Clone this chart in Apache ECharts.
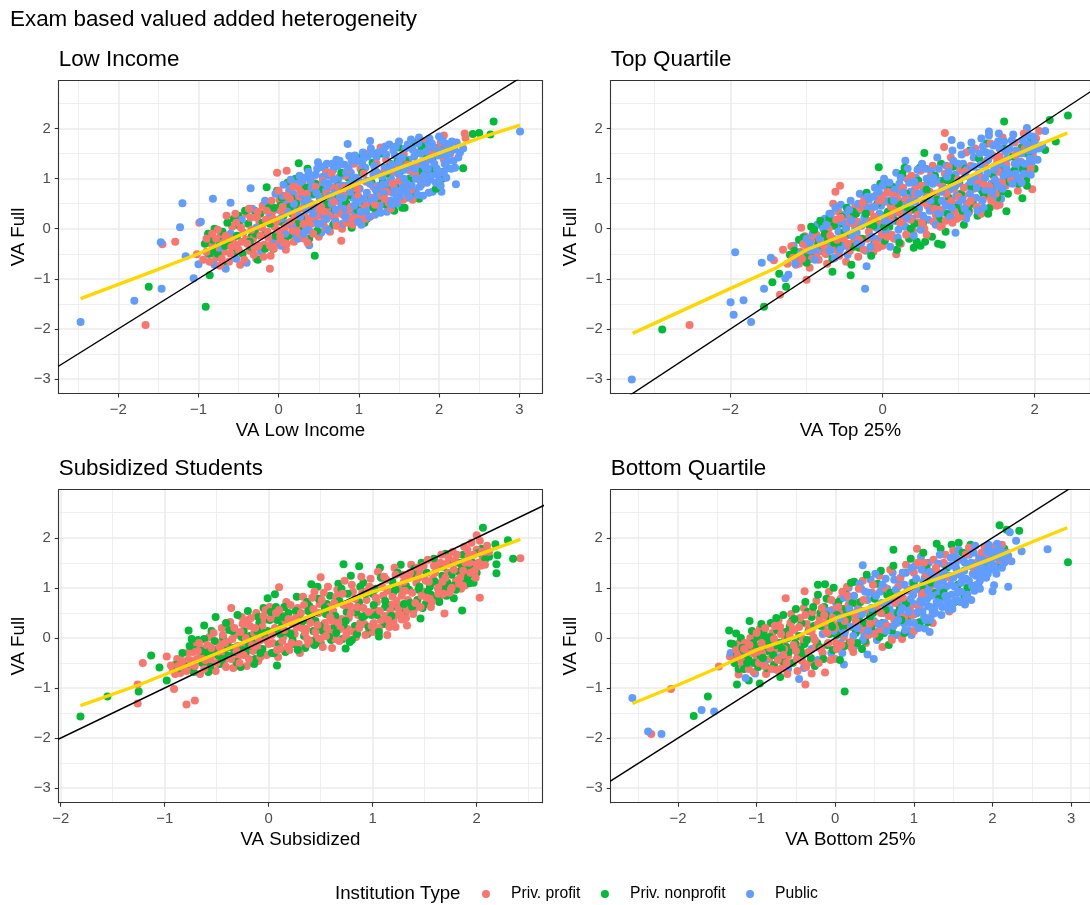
<!DOCTYPE html>
<html>
<head>
<meta charset="utf-8">
<title>Exam based valued added heterogeneity</title>
<script src="https://cdn.jsdelivr.net/npm/echarts@6/dist/echarts.min.js"></script>
<style>
  html, body {margin: 0; padding: 0; background: #fff;}
  #chart {width: 1090px; height: 905px;}
</style>
</head>
<body>
<div id="chart"></div>
<script>
const institutionTypes = ['Priv. profit', 'Priv. nonprofit', 'Public'];
const typeColors = ['#F8766D', '#00BA38', '#619CFF'];

const yTicks = [-3, -2, -1, 0, 1, 2];
const yMinorTicks = [-2.5, -1.5, -0.5, 0.5, 1.5, 2.5];
const identityLine = [[-4, -4], [4, 4]];

// Low Income panel
const lowProfit = [[-1.66,-1.92],[-1.45,-0.31],[-1.29,-0.26],[-0.99,0.12],[-1.02,-0.51],[-0.11,-0.8],[0.78,-0.24],[-0.02,1.12],[0.1,1.16],[2.32,1.9],[2.33,1.81],[2.06,1.86],
[-0.84,-0.3],[-0.78,-0.58],[-0.72,-0.14],[-0.68,-0.46],[-0.62,-0.66],[-0.58,0.04],[-0.52,-0.32],[-0.48,-0.72],[-0.44,-0.08],[-0.4,0.3],[-0.36,-0.44],[-0.32,-0.2],[-0.28,-0.6],[-0.24,0.12],[-0.2,0.46],[-0.18,-0.32],[-0.14,-0.06],[-0.1,-0.54],[-0.08,0.34],[-0.05,0.04],[-0.02,-0.28],[0.01,0.58],[0.04,0.22],[0.07,-0.08],[0.09,-0.42],[0.13,0.76],[0.16,0.4],[0.19,-0.26],[0.22,0.06],[0.25,0.6],[0.28,-0.18],[0.3,0.92],[0.33,0.24],[0.36,-0.28],[0.39,0.74],[0.41,0.1],[0.44,1.06],[0.47,0.42],[0.5,-0.16],[0.52,0.62],[0.56,0.14],[0.59,1.14],[0.61,0.4],[0.64,-0.06],[0.67,0.82],[0.7,0.2],[0.73,1.26],[0.76,0.56],[0.79,0],[0.83,1.06],[0.86,0.34],[0.89,0.72],[0.92,0.08],[0.94,1.3],[0.97,0.52],[1,0.2],[1.02,1.2],[1.06,0.42],[1.09,0.94],[1.12,1.5],[1.16,0.62],[1.2,1.18],[1.24,0.38],[1.27,1.62],[1.3,0.8],[1.34,1.38],[1.37,0.52],[1.41,1.12],[1.44,1.6],[1.48,0.7],[1.52,1.02],[1.56,1.48],[1.6,0.8],[1.64,1.16],[1.67,0.58],[1.72,1.3],[1.76,0.98],[1.8,1.74],[1.84,1.42],[1.9,1.64],[1.94,1.24],[1.98,1.58],[2.02,1.72],[2.06,1.38],[2.1,1.6],[2.14,1.5],
[-0.94,-0.62],[-0.9,-0.2],[-0.86,-0.66],[-0.8,-0.38],[-0.76,-0.02],[-0.73,-0.74],[-0.69,-0.28],[-0.65,0.26],[-0.6,-0.5],[-0.57,-0.2],[-0.54,0.3],[-0.5,-0.42],[-0.47,0.02],[-0.43,-0.62],[-0.41,-0.22],[-0.37,0.4],[-0.34,-0.02],[-0.31,-0.52],[-0.27,0.22],[-0.25,-0.34],[-0.21,0.02],[-0.19,-0.56],[-0.15,0.36],[-0.13,-0.18],[-0.09,0.56],[-0.06,-0.4],[-0.03,0.16],[0,0.76],[0.02,-0.16],[0.05,0.44],[0.08,0.04],[0.1,-0.3],[0.14,0.6],[0.17,-0.04],[0.2,0.24],[0.24,0.84],[0.26,-0.1],[0.29,0.4],[0.32,-0.2],[0.35,0.7],[0.37,0.14],[0.4,0.5],[0.43,-0.1],[0.46,0.84],[0.49,0.26],[0.53,0.44],[0.55,0.96],[0.58,0.02],[0.6,0.7],[0.63,0.26],[0.66,1.1],[0.69,0.54],[0.72,0.06],[0.75,0.84],[0.78,0.3],[0.81,0.66],[0.84,0.12],[0.87,1.2],[0.9,0.44],[0.93,0.9],[0.96,0.22],[0.99,0.66],[1.03,0.32],[1.06,1.1],[1.1,0.52],[1.14,0.24],[1.18,0.84],[1.22,1.3],[1.26,0.66],[1.3,1.1],[1.35,0.74],[1.4,0.4],[1.45,1.2],[1.5,0.96],[1.55,0.58],[1.6,1.28],[1.65,0.78],[1.7,1.1],[1.78,0.88],[1.86,1.04],[1.92,1.5],
[-0.9,-0.46],[-0.83,-0.1],[-0.78,-0.2],[-0.71,-0.6],[-0.66,-0.14],[-0.59,-0.36],[-0.53,0.12],[-0.46,-0.26],[-0.39,-0.3],[-0.35,0.22],[-0.3,-0.38],[-0.26,0.34],[-0.23,-0.14],[-0.16,0.18],[-0.11,-0.34],[-0.07,0.2],[0,-0.04],[0.03,0.36],[0.06,-0.28],[0.1,0.66],[0.15,0.14],[0.18,0.84],[0.23,-0.06],[0.27,0.74],[0.31,0.1],[0.42,0.24],[0.5,0.36],[0.57,0.34],[0.65,0.64],[0.74,0.34],[0.82,0.82],[0.9,0.2],[0.98,0.8],[1.08,0.2],[1.2,0.48],[1.32,0.6],[1.42,0.9]];
const lowNonprofit = [[-1.62,-1.16],[-0.91,-1.56],[-0.86,-0.93],[0.45,-0.54],[0.25,1.31],[2.68,2.14],[2.42,1.89],[2.5,1.91],[2.64,1.88],[2.3,1.21],[1.57,0.42],[2.05,1.14],[-0.15,0.83],
[-0.88,-0.1],[-0.82,-0.22],[-0.76,-0.5],[-0.7,-0.72],[-0.64,0.12],[-0.56,0.2],[-0.5,0.26],[-0.45,-0.5],[-0.38,0.1],[-0.34,-0.16],[-0.3,0.36],[-0.26,-0.62],[-0.16,-0.08],[-0.12,0.44],[-0.07,-0.4],[-0.02,0.76],[0.03,0.14],[0.08,-0.22],[0.11,0.92],[0.17,0.3],[0.21,1],[0.27,-0.04],[0.31,0.66],[0.36,1.2],[0.38,-0.2],[0.46,0.9],[0.51,0.28],[0.57,1.22],[0.63,-0.02],[0.66,0.48],[0.74,0.9],[0.81,0.28],[0.87,1.02],[0.91,0.02],[0.96,0.72],[1.01,1.42],[1.07,0.12],[1.11,0.6],[1.17,1.32],[1.23,0.72],[1.29,1.5],[1.33,0.48],[1.39,1.3],[1.46,0.88],[1.5,1.62],[1.54,0.42],[1.63,1],[1.7,1.72],[1.75,0.6],[1.83,1.1],[1.87,1.76],[1.93,1.44],[2,1.62],[2.04,1],
[-0.92,-0.3],[-0.86,-0.5],[-0.8,0],[-0.74,-0.26],[-0.7,-0.06],[-0.61,-0.24],[-0.55,-0.48],[-0.49,0.06],[-0.42,0.36],[-0.35,-0.36],[-0.29,-0.1],[-0.23,0.3],[-0.17,-0.4],[-0.11,0.1],[-0.04,-0.14],[0.02,0.46],[0.06,0.26],[0.12,-0.14],[0.16,0.6],[0.22,0.5],[0.28,0.2],[0.34,0.82],[0.42,0.4],[0.48,-0.04],[0.54,0.78],[0.6,0.48],[0.68,0.08],[0.72,0.62],[0.78,1.12],[0.84,0.52],[0.92,0.8],[0.98,0.38],[1.04,1.12],[1.1,0.2],[1.16,0.92],[1.24,0.6],[1.3,0.96],[1.38,0.84],[1.44,0.36],[1.52,1.16],[1.58,1.36],[1.66,0.72],[1.74,1.14],[1.8,1.5],[1.9,1.16],[1.96,0.8],
[-0.83,-0.44],[-0.67,-0.34],[-0.52,-0.14],[-0.36,-0.26],[-0.2,0.12],[-0.06,0.42],[0.04,0.62],[0.14,0.44],[0.24,0.12],[0.33,0.4],[0.44,0.7],[0.55,0.62],[0.7,0.38],[0.86,0.66],[1.02,0.56],[1.18,0.42],[1.34,1.1],[1.48,1.34],[1.64,0.96],[1.78,1.64]];
const lowPublic = [[-2.47,-1.86],[-1.8,-1.44],[-1.46,-1.2],[-1.47,-0.27],[-1.2,0.51],[-1.23,0.03],[-0.82,0.6],[-0.6,0.52],[-0.35,0.81],[-0.97,0.14],[-1.16,-0.55],[-1,-0.71],[-1.06,-0.99],[3.01,1.94],[2.21,0.89],[2.03,0.74],[0.86,1.69],[1.14,1.75],[0.49,1.33],[0.38,-0.33],
[-0.88,-0.5],[-0.8,-0.72],[-0.74,-0.38],[-0.66,-0.8],[-0.6,-0.1],[-0.53,-0.6],[-0.46,0.18],[-0.4,-0.68],[-0.33,0.4],[-0.28,0.02],[-0.22,-0.46],[-0.17,0.56],[-0.12,0.22],[-0.08,-0.22],[-0.04,0.7],[0,0.38],[0.03,-0.34],[0.06,0.88],[0.09,0.54],[0.12,0.12],[0.15,0.98],[0.18,0.7],[0.2,-0.12],[0.23,0.36],[0.26,1.06],[0.29,0.84],[0.32,0.52],[0.34,0.02],[0.37,1.14],[0.4,0.94],[0.42,0.68],[0.45,0.2],[0.48,1.2],[0.5,0.82],[0.53,-0.08],[0.55,1.04],[0.58,0.56],[0.6,1.3],[0.62,0.9],[0.65,0.3],[0.68,1.18],[0.7,0.72],[0.72,1.38],[0.75,1.02],[0.78,0.48],[0.8,0.1],[0.82,1.28],[0.85,0.86],[0.88,1.45],[0.9,1.12],[0.93,0.62],[0.95,0.32],[0.98,1.36],[1,0.96],[1.03,0.08],[1.05,1.52],[1.08,1.22],[1.1,0.72],[1.13,0.46],[1.15,1.6],[1.18,1.08],[1.2,0.28],[1.22,1.42],[1.25,0.86],[1.28,0.58],[1.3,1.56],[1.32,1.22],[1.35,0.34],[1.38,1.68],[1.4,1],[1.42,0.72],[1.45,1.46],[1.48,0.5],[1.5,1.74],[1.52,1.26],[1.55,0.86],[1.58,1.6],[1.6,0.62],[1.62,1.38],[1.65,1.78],[1.68,1.06],[1.7,0.76],[1.72,1.52],[1.75,1.82],[1.78,1.2],[1.8,0.66],[1.82,1.66],[1.85,0.92],[1.88,1.8],[1.9,1.38],[1.92,0.74],[1.95,1.56],[1.98,1.08],[2,1.84],[2.02,0.86],[2.05,1.48],[2.08,1.7],[2.1,1.22],[2.14,1.6],[2.18,1.36],[2.22,1.72],[2.26,1.52],[2.3,1.6],
[0.02,0.2],[0.05,0.66],[0.08,-0.1],[0.11,0.34],[0.14,0.8],[0.17,0.06],[0.19,0.5],[0.22,0.9],[0.24,-0.2],[0.27,0.24],[0.3,0.68],[0.33,1.02],[0.35,0.38],[0.38,-0.04],[0.41,0.82],[0.44,0.46],[0.46,1.08],[0.49,0.1],[0.51,0.62],[0.54,1.24],[0.56,0.3],[0.59,0.76],[0.61,-0.02],[0.63,1.06],[0.66,0.5],[0.69,0.98],[0.71,0.14],[0.74,1.26],[0.76,0.64],[0.79,0.86],[0.81,0.4],[0.84,1.12],[0.86,0.2],[0.89,0.74],[0.91,1.36],[0.94,0.46],[0.96,1.02],[0.99,0.14],[1.01,0.8],[1.04,1.3],[1.06,0.6],[1.09,0.34],[1.11,1.44],[1.14,0.9],[1.16,0.56],[1.19,1.26],[1.21,0.78],[1.24,1.52],[1.26,0.46],[1.29,1.04],[1.31,0.7],[1.34,1.48],[1.36,0.9],[1.39,0.56],[1.41,1.28],[1.44,0.82],[1.46,1.64],[1.49,1.1],[1.51,0.64],[1.54,1.42],[1.56,1],[1.59,0.74],[1.61,1.68],[1.64,1.24],[1.66,0.86],[1.69,1.44],[1.71,1],[1.74,1.7],[1.76,0.84],[1.79,1.34],[1.81,1.06],[1.84,1.54],[1.86,1.2],[1.89,0.98],[1.91,1.7],[1.94,1.3],[1.96,0.92],[1.99,1.46],[2.01,1.14],[2.04,1.76],[2.07,1.3],[2.09,1.02],[2.12,1.5],[2.16,1.74],[2.2,1.22],[2.24,1.42],
[0.28,0.94],[0.31,-0.1],[0.36,0.58],[0.39,1.04],[0.43,0.3],[0.47,0.72],[0.52,0.1],[0.57,0.92],[0.6,0.2],[0.64,0.66],[0.67,1.3],[0.71,0.38],[0.76,1.36],[0.8,0.62],[0.83,0.24],[0.87,1.22],[0.92,0.98],[0.95,1.46],[1,0.54],[1.02,0.34],[1.06,1.4],[1.1,0.96],[1.13,0.24],[1.17,1.5],[1.2,0.62],[1.23,1.12],[1.27,0.32],[1.3,0.88],[1.33,1.64],[1.37,1.16],[1.41,0.48],[1.43,1.56],[1.47,0.62],[1.5,1.34],[1.53,0.76],[1.57,1.18],[1.6,0.9],[1.63,0.64],[1.67,1.58],[1.7,1.2],[1.73,0.68],[1.77,1.5],[1.8,0.94],[1.83,1.28],[1.87,0.72],[1.9,1.06],[1.93,1.62],[1.97,1.2],[2,0.96],[2.03,1.56],[2.06,1.12],[2.11,1.36],[2.15,1.2],[2.19,1.58]];
const lowSmooth = [[-2.47,-1.395],[-1.6,-0.87],[-1,-0.5],[-0.5,-0.14],[0,0.21],[0.47,0.54],[1,0.91],[1.5,1.21],[2,1.51],[2.5,1.81],[3.01,2.07]];

// Top Quartile panel
const topProfit = [[-2.54,-1.92],[-1.35,-1.32],[-1,-1.02],[-1.07,0.02],[-1.31,-0.42],[-1.43,-0.63],[-0.56,0.86],[-0.62,0.74],[-0.65,0.5],[0.82,1.91],[0.81,1.63],[1.97,0.79],[0.18,-0.51],[1.54,0.48],[2.06,1.95],
[-1.25,-0.7],[-1.2,-0.35],[-1.14,-0.72],[-1.08,-0.46],[-1.02,-0.15],[-0.96,-0.78],[-0.9,-0.4],[-0.84,-0.62],[-0.78,-0.16],[-0.73,-0.7],[-0.68,0.12],[-0.62,-0.42],[-0.58,0.34],[-0.53,-0.1],[-0.48,-0.66],[-0.44,0.24],[-0.4,-0.3],[-0.36,0.44],[-0.32,-0.56],[-0.28,0.06],[-0.24,0.62],[-0.2,-0.2],[-0.16,0.34],[-0.12,-0.46],[-0.08,0.68],[-0.04,0.1],[0,-0.34],[0.04,0.54],[0.08,0.92],[0.12,-0.12],[0.16,0.4],[0.2,0.76],[0.24,-0.3],[0.28,0.18],[0.32,1],[0.36,0.46],[0.4,-0.04],[0.43,0.82],[0.47,0.12],[0.5,1.16],[0.54,0.52],[0.58,-0.12],[0.62,0.74],[0.66,1.26],[0.7,0.28],[0.74,0.92],[0.78,0.06],[0.82,1.1],[0.86,0.5],[0.9,1.42],[0.94,0.8],[0.98,0.2],[1.02,1.16],[1.06,0.66],[1.1,1.52],[1.14,0.34],[1.18,1.02],[1.22,1.6],[1.26,0.82],[1.3,0.3],[1.34,1.3],[1.38,0.66],[1.42,1.7],[1.46,1.06],[1.5,0.46],[1.54,1.44],[1.58,1.82],[1.62,0.86],[1.66,1.58],[1.7,1.12],[1.74,1.72],[1.78,0.76],[1.82,1.34],[1.86,1.9],[1.9,1.14],[1.94,1.62],[1.98,1.44],[2.02,1.8],
[-1.18,-0.58],[-1.1,-0.7],[-1.04,-0.3],[-0.99,-0.42],[-0.93,-0.6],[-0.87,-0.12],[-0.81,-0.3],[-0.75,-0.5],[-0.71,0],[-0.67,-0.38],[-0.61,0.18],[-0.57,-0.54],[-0.51,-0.2],[-0.47,0.1],[-0.43,-0.44],[-0.37,-0.18],[-0.33,0.14],[-0.29,0.4],[-0.25,-0.42],[-0.19,0.16],[-0.13,0.44],[-0.09,-0.28],[-0.05,0.56],[-0.01,-0.12],[0.03,0.2],[0.07,0.74],[0.11,0.44],[0.15,-0.2],[0.19,0.62],[0.23,0.12],[0.27,0.82],[0.31,-0.12],[0.34,0.32],[0.38,1.06],[0.42,0.6],[0.46,0.28],[0.51,0.86],[0.55,0],[0.59,0.46],[0.63,1.04],[0.67,0.14],[0.71,0.7],[0.75,0.38],[0.79,0.84],[0.83,0.16],[0.87,1.24],[0.91,0.56],[0.95,0.34],[0.99,0.98],[1.03,0.24],[1.07,0.82],[1.11,0.5],[1.16,1.26],[1.2,0.8],[1.24,0.44],[1.28,1.02],[1.32,0.58],[1.37,1.36],[1.41,0.84],[1.45,1.46],[1.49,0.7],[1.53,1.14],[1.57,0.94],[1.63,1.28],[1.69,0.98],[1.75,1.46],[1.81,1.02],[1.87,1.6],[1.95,1.2],
[-1.06,-0.6],[-0.94,-0.24],[-0.86,-0.48],[-0.77,-0.34],[-0.69,-0.14],[-0.6,-0.22],[-0.55,0.22],[-0.46,-0.3],[-0.39,0.1],[-0.31,-0.22],[-0.26,0.52],[-0.18,-0.06],[-0.11,0.24],[-0.06,-0.38],[0,0.66],[0.06,-0.16],[0.1,0.24],[0.14,0.66],[0.22,0.32],[0.3,0.6],[0.37,0.18],[0.44,0.72],[0.52,0.12],[0.6,0.64],[0.68,0.4],[0.76,0.04],[0.84,0.7],[0.92,0.12],[1,0.64],[1.08,1.14],[1.16,0.56],[1.24,0.9],[1.33,0.9],[1.43,0.56],[1.51,1.36]];
const topNonprofit = [[-2.9,-2.01],[-1.56,-1.56],[-1.45,-1.07],[-1.27,-1.16],[-1.36,-0.9],[-0.66,-0.86],[-0.42,-0.93],[-0.05,1.23],[0.55,1.51],[1.6,2.14],[2.2,2.17],[2.44,2.26],[2.28,1.74],[2.14,1.57],[1.63,0.35],[1.84,0.61],[1.9,0.86],[0.73,-0.3],[0.78,-0.32],[0.41,-0.38],[0.5,-0.34],[0.56,-0.26],[-1.04,-0.17],
[-1.22,-0.52],[-1.1,-0.22],[-1,-0.52],[-0.94,0.04],[-0.88,-0.22],[-0.82,0.16],[-0.74,-0.5],[-0.7,0.2],[-0.66,-0.6],[-0.56,-0.28],[-0.52,0.1],[-0.47,0.42],[-0.41,-0.72],[-0.35,0.3],[-0.27,-0.2],[-0.21,0.72],[-0.15,-0.54],[-0.09,0.22],[-0.03,0.9],[0.03,-0.24],[0.07,0.34],[0.13,0.84],[0.19,-0.42],[0.25,0.3],[0.29,1.22],[0.35,-0.2],[0.39,0.6],[0.45,-0.26],[0.49,1.22],[0.55,0.2],[0.61,0.98],[0.65,-0.16],[0.71,0.48],[0.77,1.3],[0.83,-0.06],[0.87,0.62],[0.93,1.24],[1.01,0.92],[1.07,0.08],[1.15,1.56],[1.19,0.5],[1.25,0.26],[1.31,1],[1.37,1.7],[1.41,0.42],[1.47,1.24],[1.55,0.72],[1.59,1.6],[1.65,0.7],[1.71,1.44],[1.77,1],[1.83,1.62],[1.89,0.98],[1.95,1.78],[2,1.2],
[-1.16,-0.44],[-1.06,-0.62],[-0.97,-0.28],[-0.91,-0.5],[-0.85,-0.34],[-0.79,0.06],[-0.72,-0.22],[-0.64,0.06],[-0.59,-0.34],[-0.54,0.24],[-0.45,-0.12],[-0.39,0.34],[-0.31,-0.38],[-0.25,0.48],[-0.17,0.06],[-0.11,-0.3],[-0.07,0.5],[0.01,0.26],[0.05,0.86],[0.09,0.04],[0.17,0.16],[0.21,0.5],[0.26,1.1],[0.31,0.7],[0.37,0],[0.41,0.38],[0.47,0.96],[0.53,0.1],[0.57,0.6],[0.64,0.42],[0.69,1.06],[0.75,0.18],[0.81,0.96],[0.86,0.3],[0.91,1.02],[0.97,0.42],[1.03,0.7],[1.09,1.2],[1.13,0.38],[1.21,0.86],[1.27,1.4],[1.33,0.68],[1.39,0.3],[1.44,1.1],[1.51,0.62],[1.57,1.16],[1.67,0.94],[1.73,1.16],[1.79,0.9],[1.85,1.2],[1.92,1.5],
[-1,-0.68],[-0.9,-0.02],[-0.76,-0.1],[-0.64,-0.28],[-0.5,-0.06],[-0.38,-0.36],[-0.22,0.3],[-0.12,0.06],[0.02,0.04],[0.12,0.56],[0.22,-0.28],[0.33,0.42],[0.42,0.1],[0.58,0.78],[0.72,0.58],[0.88,0.96],[1.05,0.36],[1.17,0.84],[1.31,0.76],[1.46,0.84],[1.6,1.02],[1.74,1.02]];
const topPublic = [[-3.3,-3.01],[-1.94,-0.47],[-1.59,-0.68],[-1.56,-1.2],[-2,-1.47],[-1.83,-1.43],[-1.96,-1.72],[-1.73,-1.86],[-0.23,-1.2],[-0.21,-0.75],[0.96,-0.08],[-1.28,-0.99],[-1.24,-0.92],[-1.47,-0.58],[-1.17,-0.34],[2.14,1.95],[1.9,2.01],[0.91,1.77],[0.3,1.36],[1.4,1.94],
[-1.12,-0.55],[-1.05,-0.3],[-0.98,-0.62],[-0.92,-0.1],[-0.86,0.08],[-0.8,-0.45],[-0.76,0.2],[-0.7,0.3],[-0.65,-0.2],[-0.6,0.05],[-0.55,0.48],[-0.5,0.28],[-0.46,-0.52],[-0.42,0.56],[-0.38,0.18],[-0.34,-0.08],[-0.3,0.7],[-0.26,0.36],[-0.22,-0.44],[-0.18,0.58],[-0.14,0.14],[-0.1,0.82],[-0.06,-0.2],[-0.02,0.46],[0.02,1],[0.06,0.72],[0.1,-0.36],[0.14,0.28],[0.18,1.12],[0.22,0.9],[0.26,0.54],[0.3,0.04],[0.33,1.2],[0.37,0.74],[0.41,-0.14],[0.44,1.02],[0.48,0.4],[0.52,1.3],[0.56,0.86],[0.6,0.18],[0.64,1.14],[0.68,0.6],[0.72,1.42],[0.76,0.96],[0.8,0.32],[0.84,1.26],[0.88,0.78],[0.92,1.56],[0.96,1.08],[1,0.5],[1.03,1.66],[1.06,1.3],[1.1,0.2],[1.13,0.86],[1.17,1.72],[1.2,1.42],[1.23,0.62],[1.27,1.12],[1.3,1.8],[1.33,0.42],[1.36,1.52],[1.4,1.86],[1.43,0.9],[1.46,1.66],[1.5,1.28],[1.53,1.9],[1.56,0.6],[1.6,1.74],[1.64,1.4],[1.68,0.92],[1.72,1.88],[1.76,1.56],[1.8,1.2],[1.84,1.76],[1.88,1.5],[1.92,1.86],[1.96,1.3],[2,1.72],[2.04,1.38],[2.06,1.6],[2.1,1.66],
[-1.15,-0.7],[-1.08,-0.5],[-1,-0.2],[-0.95,-0.44],[-0.89,-0.62],[-0.83,-0.2],[-0.78,0],[-0.73,-0.36],[-0.68,0.3],[-0.63,-0.58],[-0.58,-0.06],[-0.53,0.14],[-0.49,-0.34],[-0.44,0.38],[-0.4,-0.14],[-0.36,0.02],[-0.32,0.5],[-0.28,-0.28],[-0.24,0.22],[-0.2,0.42],[-0.16,-0.36],[-0.12,0.64],[-0.08,0.02],[-0.04,0.3],[0,0.86],[0.04,-0.04],[0.08,0.56],[0.12,0.16],[0.16,0.78],[0.2,-0.18],[0.24,1.02],[0.28,0.38],[0.32,0.62],[0.35,0.92],[0.39,0.2],[0.43,0.54],[0.46,1.18],[0.5,-0.02],[0.54,0.74],[0.58,1],[0.62,0.36],[0.66,0.9],[0.7,0.08],[0.74,1.2],[0.78,0.56],[0.81,0.8],[0.85,1.04],[0.89,0.24],[0.93,1.36],[0.97,0.66],[1,0.94],[1.04,1.48],[1.08,0.4],[1.11,1.18],[1.15,0.7],[1.18,1.56],[1.22,1],[1.25,0.36],[1.29,1.28],[1.32,1.64],[1.35,0.78],[1.38,1.12],[1.42,1.5],[1.45,0.6],[1.48,0.98],[1.52,1.74],[1.55,1.3],[1.58,0.8],[1.62,1.54],[1.66,1.1],[1.7,1.76],[1.74,1.3],[1.78,1],[1.82,1.5],[1.86,1.1],[1.9,1.7],[1.94,1.4],[1.98,1.84],
[-0.96,-0.28],[-0.88,-0.42],[-0.74,0.08],[-0.69,-0.44],[-0.62,0.42],[-0.56,-0.42],[-0.48,0],[-0.41,0.16],[-0.33,-0.3],[-0.27,0.08],[-0.2,0.64],[-0.14,-0.16],[-0.1,0.44],[-0.05,0.74],[0.03,0.16],[0.09,0.92],[0.15,0.56],[0.21,-0.02],[0.27,0.72],[0.32,0.22],[0.36,0.52],[0.42,0.94],[0.47,0.7],[0.53,0.26],[0.57,1.2],[0.63,0.56],[0.67,1.02],[0.73,0.3],[0.77,0.74],[0.83,0.46],[0.87,1.14],[0.91,0.42],[0.96,0.86],[0.99,1.3],[1.05,0.58],[1.09,1.06],[1.12,0.3],[1.16,0.94],[1.2,1.24],[1.24,0.82],[1.28,1.5],[1.31,0.56],[1.35,1.02],[1.39,1.38],[1.44,0.74],[1.47,1.18],[1.51,0.86],[1.54,1.6],[1.59,1.06],[1.63,1.2],[1.67,1.6],[1.71,0.9],[1.75,1.1],[1.79,1.34],[1.83,0.92],[1.87,1.3],[1.91,1.56],[1.95,1.08],[1.99,1.56]];
const topSmooth = [[-3.29,-2.09],[-2,-1.19],[-1.41,-0.79],[-1,-0.42],[-0.5,-0.12],[0,0.24],[0.63,0.68],[1,0.94],[1.5,1.31],[2,1.64],[2.43,1.91]];

// Subsidized Students panel
const subProfit = [[-1.21,-0.5],[-0.98,-0.37],[-1.26,-1.31],[-1.26,-0.93],[-0.91,-1.02],[-0.79,-1.33],[-0.71,-1.25],[2.42,1.59],[2.03,0.8],[1.69,0.49],[1.89,1.05],[1.14,0.06],[1.33,0.25],[1.22,0.22],[1.28,0.37],[0.1,1.01],[-0.36,0.6],[0.5,1.21],[2,2.05],[0.61,-0.2],
[-0.92,-0.62],[-0.88,-0.42],[-0.85,-0.7],[-0.81,-0.5],[-0.78,-0.3],[-0.75,-0.64],[-0.72,-0.12],[-0.69,-0.42],[-0.66,-0.72],[-0.63,-0.22],[-0.6,-0.54],[-0.57,0.02],[-0.54,-0.34],[-0.51,-0.66],[-0.48,-0.1],[-0.45,0.2],[-0.43,-0.48],[-0.4,-0.2],[-0.37,0.32],[-0.34,-0.6],[-0.32,0.06],[-0.29,-0.36],[-0.26,0.42],[-0.23,-0.1],[-0.21,-0.56],[-0.18,0.24],[-0.15,-0.26],[-0.12,0.5],[-0.1,-0.46],[-0.07,0.06],[-0.04,0.36],[-0.02,-0.34],[0.01,0.62],[0.04,-0.1],[0.06,0.2],[0.09,-0.38],[0.12,0.46],[0.14,0.02],[0.17,0.72],[0.2,-0.24],[0.22,0.3],[0.25,0.08],[0.28,0.6],[0.3,-0.3],[0.33,0.82],[0.36,0.18],[0.38,-0.12],[0.41,0.44],[0.44,0.92],[0.46,0],[0.49,0.68],[0.52,-0.18],[0.54,0.3],[0.57,1.02],[0.6,0.1],[0.62,0.54],[0.65,0.82],[0.68,-0.06],[0.7,0.38],[0.73,1.14],[0.76,0.18],[0.78,0.64],[0.81,0.92],[0.84,0.02],[0.86,0.46],[0.89,1.22],[0.92,0.28],[0.94,0.76],[0.97,1.02],[1,0.12],[1.02,0.56],[1.05,1.32],[1.08,0.36],[1.1,0.84],[1.13,1.16],[1.16,0.22],[1.18,0.66],[1.21,1.4],[1.24,0.46],[1.26,0.98],[1.29,1.26],[1.32,0.4],[1.34,0.76],[1.37,1.46],[1.4,0.58],[1.42,1.1],[1.45,1.34],[1.5,0.92],[1.53,1.56],[1.56,0.62],[1.58,1.18],[1.61,1.42],[1.64,0.8],[1.66,1.66],[1.69,1.02],[1.72,1.3],[1.74,0.9],[1.77,1.72],[1.8,1.14],[1.82,1.5],[1.85,0.98],[1.88,1.82],[1.9,1.28],[1.92,1.62],[1.95,1.9],[1.98,1.46],[2,1.76],[2.03,1.94],[2.06,1.6],[2.1,1.84],
[-0.94,-0.55],[-0.9,-0.72],[-0.87,-0.56],[-0.83,-0.46],[-0.79,-0.66],[-0.76,-0.44],[-0.73,-0.28],[-0.71,-0.56],[-0.67,-0.1],[-0.65,-0.4],[-0.62,-0.62],[-0.59,-0.14],[-0.56,-0.42],[-0.53,0.1],[-0.5,-0.5],[-0.46,-0.3],[-0.44,0.06],[-0.41,-0.58],[-0.39,-0.08],[-0.36,-0.42],[-0.33,0.2],[-0.3,-0.16],[-0.28,-0.5],[-0.25,0.28],[-0.22,0],[-0.19,-0.42],[-0.17,0.4],[-0.14,0.1],[-0.11,-0.2],[-0.08,-0.38],[-0.06,0.22],[-0.03,0.56],[0,-0.12],[0.02,0.4],[0.05,0.1],[0.08,-0.24],[0.1,0.56],[0.13,-0.06],[0.16,0.34],[0.18,-0.18],[0.21,0.66],[0.23,0.1],[0.26,0.4],[0.29,-0.12],[0.32,0.2],[0.34,0.66],[0.37,-0.02],[0.4,0.3],[0.42,0.8],[0.45,0.12],[0.48,0.5],[0.5,-0.02],[0.53,0.9],[0.56,0.2],[0.58,0.62],[0.61,0.34],[0.64,-0.02],[0.66,0.96],[0.69,0.18],[0.72,0.66],[0.74,0.02],[0.77,0.4],[0.8,1.06],[0.82,0.12],[0.85,0.62],[0.88,0.3],[0.9,0.9],[0.93,0.06],[0.96,0.52],[0.98,1.18],[1.01,0.3],[1.04,0.72],[1.06,0.2],[1.09,1.02],[1.12,0.44],[1.14,0.94],[1.17,0.54],[1.2,0.34],[1.22,1.26],[1.25,0.6],[1.28,0.84],[1.3,1.12],[1.33,0.56],[1.36,1.3],[1.38,0.9],[1.41,0.7],[1.44,1.2],[1.46,0.62],[1.49,1.44],[1.52,0.8],[1.54,1.12],[1.57,0.72],[1.6,1.3],[1.63,1],[1.65,1.5],[1.68,0.88],[1.7,1.2],[1.73,1.6],[1.76,1],[1.78,1.36],[1.81,1.66],[1.84,1.2],[1.87,1.04],[1.89,1.5],[1.91,1.76],[1.94,1.3],[1.97,1.66],[1.99,1.2],[2.02,1.5],[2.05,1.72],[2.08,1.46],[2.12,1.72],
[-0.82,-0.6],[-0.74,-0.5],[-0.68,-0.26],[-0.61,-0.44],[-0.55,-0.2],[-0.47,-0.18],[-0.42,-0.1],[-0.35,-0.02],[-0.31,-0.26],[-0.27,0.12],[-0.24,-0.34],[-0.2,0.36],[-0.16,-0.14],[-0.13,0.2],[-0.09,-0.06],[-0.05,0.44],[-0.02,-0.04],[0.03,0.06],[0.07,0.5],[0.11,-0.22],[0.15,0.16],[0.19,0.38],[0.22,-0.1],[0.27,0.22],[0.31,0.5],[0.35,0.1],[0.39,-0.06],[0.43,0.58],[0.47,0.26],[0.51,0.76],[0.55,0.04],[0.59,0.42],[0.63,0.7],[0.67,0.3],[0.71,0.88],[0.75,0.08],[0.79,0.5],[0.83,0.78],[0.87,0.2],[0.91,0.6],[0.95,0.94],[0.99,0.24],[1.03,0.8],[1.07,0.54],[1.11,1.22],[1.15,0.36],[1.19,0.82],[1.23,0.74],[1.27,0.46],[1.31,0.94],[1.35,1.2],[1.39,0.48],[1.43,1.4],[1.47,0.84],[1.51,1.14],[1.55,0.78],[1.59,1.44],[1.63,0.88],[1.67,1.12],[1.71,1.48],[1.75,0.96],[1.79,1.54],[1.83,1.08],[1.87,1.34],[1.93,1.5],[1.98,1.34],[2.04,1.44]];
const subNonprofit = [[-1.81,-1.57],[-1.55,-1.17],[-1.25,-1.07],[-1.13,-0.35],[-1.05,-0.59],[-0.98,-0.85],[-0.87,-0.51],[0.08,-0.55],[2.06,2.2],[2.3,1.95],[2.18,1.87],[2.2,1.65],[2.19,1.47],[2.19,1.29],[2.35,1.58],[1.86,0.55],[1.46,0.39],[1.06,0.03],[0.74,-0.21],[-0.77,0.15],[-0.62,0.25],[-0.51,0.42],[-0.01,0.79],[0.06,0.87],[0.41,1.07],[0.72,1.47],[0.87,1.43],[1.93,1.09],[1.78,0.79],
[-0.9,-0.54],[-0.83,-0.3],[-0.8,-0.62],[-0.74,-0.02],[-0.7,-0.24],[-0.62,-0.02],[-0.58,-0.68],[-0.55,0.14],[-0.5,-0.24],[-0.47,-0.52],[-0.44,0.02],[-0.41,0.3],[-0.38,-0.36],[-0.35,0.14],[-0.3,0.46],[-0.27,-0.58],[-0.24,0.14],[-0.2,0.54],[-0.16,-0.08],[-0.13,-0.42],[-0.09,0.3],[-0.05,0.6],[-0.01,0.14],[0.03,-0.3],[0.07,0.62],[0.1,-0.12],[0.13,0.26],[0.16,-0.28],[0.19,0.5],[0.24,-0.12],[0.27,0.82],[0.31,0.26],[0.35,-0.2],[0.39,0.64],[0.43,0.14],[0.47,1.02],[0.5,-0.1],[0.55,0.48],[0.59,0.84],[0.63,0.22],[0.67,1.08],[0.71,-0.02],[0.75,0.52],[0.79,1.24],[0.83,0.24],[0.87,0.72],[0.91,1.1],[0.95,0.08],[0.99,0.46],[1.03,0.98],[1.07,1.4],[1.11,0.28],[1.15,0.66],[1.19,1.12],[1.23,0.62],[1.27,1.46],[1.31,0.5],[1.35,0.96],[1.39,1.28],[1.43,0.76],[1.47,1.5],[1.51,0.68],[1.55,1.02],[1.59,1.58],[1.63,0.98],[1.67,1.24],[1.71,0.84],[1.75,1.5],[1.79,1],[1.83,1.32],[1.87,1.66],[1.91,1.12],[1.96,1.5],[2,1.3],[2.05,1.78],[2.12,1.62],[1.7,1.68],
[-0.86,-0.6],[-0.78,-0.46],[-0.72,-0.68],[-0.68,-0.04],[-0.64,-0.5],[-0.6,-0.3],[-0.56,-0.56],[-0.52,-0.06],[-0.48,-0.36],[-0.42,-0.34],[-0.38,0.16],[-0.34,-0.2],[-0.31,-0.48],[-0.26,0.02],[-0.22,-0.3],[-0.18,0.04],[-0.14,-0.52],[-0.1,0.42],[-0.06,-0.22],[-0.03,0.02],[0.01,0.36],[0.05,-0.3],[0.08,0.36],[0.11,0.08],[0.15,0.62],[0.18,0.12],[0.23,-0.04],[0.26,0.54],[0.3,0.38],[0.34,0.04],[0.37,0.72],[0.41,-0.06],[0.45,0.34],[0.48,0.78],[0.52,0.14],[0.56,0.68],[0.6,-0.04],[0.64,0.44],[0.68,0.74],[0.72,0.26],[0.76,0.88],[0.8,-0.04],[0.84,0.52],[0.88,1.02],[0.92,0.44],[0.96,0.22],[1,0.88],[1.04,0.46],[1.08,1.2],[1.12,0.62],[1.16,0.4],[1.2,0.92],[1.24,1.3],[1.28,0.52],[1.32,1.04],[1.36,0.7],[1.4,1.38],[1.44,0.96],[1.48,0.6],[1.52,1.3],[1.56,0.86],[1.6,1.12],[1.64,0.72],[1.68,1.42],[1.72,1.1],[1.76,1.26],[1.8,0.96],[1.84,1.5],[1.88,1.14],[1.93,1.4],[1.97,1.1],[2.02,1.7],[2.08,1.56],
[-0.76,-0.16],[-0.65,-0.26],[-0.57,-0.28],[-0.45,-0.42],[-0.39,-0.18],[-0.33,-0.28],[-0.25,-0.24],[-0.19,-0.16],[-0.11,0.14],[-0.08,-0.3],[-0.04,0.1],[0.02,0.52],[0.09,0.14],[0.14,0.42],[0.21,0.08],[0.28,-0.24],[0.33,0.34],[0.38,0.54],[0.44,-0.14],[0.49,0.24],[0.54,0.6],[0.58,0.02],[0.65,0.1],[0.7,0.98],[0.74,0.34],[0.78,-0.08],[0.85,0.08],[0.9,0.42],[0.93,0.88],[1.01,0.66],[1.06,0.12],[1.12,0.74],[1.18,0.44],[1.22,0.96],[1.3,0.68],[1.38,0.62],[1.45,1.02],[1.53,0.92],[1.62,0.78],[1.7,1],[1.78,1.04],[1.86,1.42],[1.92,1.24]];
const subPublic = [];
const subSmooth = [[-1.81,-1.35],[-1.25,-0.94],[-0.82,-0.58],[-0.5,-0.31],[0,0.12],[0.5,0.52],[1,0.92],[1.5,1.25],[2,1.65],[2.42,1.97]];

// Bottom Quartile panel
const botProfit = [[-2.34,-1.92],[-2.09,-1.02],[-1.48,-0.57],[-1.34,-0.37],[-1.26,-0.19],[-1.23,-0.73],[-0.38,-0.93],[-0.3,-0.71],[-0.13,-0.69],[-0.63,0.79],[-0.39,0.93],[1.45,0.53],[1.21,0.36],[1.24,0.3],[1.04,1.78],[1.8,1.02],[2.09,1.55],
[-1.28,-0.42],[-1.22,-0.1],[-1.18,-0.56],[-1.12,-0.28],[-1.08,0],[-1.04,-0.68],[-1,-0.4],[-0.96,0.18],[-0.92,-0.16],[-0.88,-0.72],[-0.84,-0.42],[-0.8,0.1],[-0.76,-0.24],[-0.72,0.36],[-0.68,-0.6],[-0.64,-0.04],[-0.6,-0.36],[-0.56,0.48],[-0.52,0.16],[-0.48,-0.66],[-0.44,-0.16],[-0.4,0.6],[-0.36,0.28],[-0.32,-0.48],[-0.28,0.02],[-0.24,0.74],[-0.2,0.4],[-0.16,-0.3],[-0.12,0.14],[-0.08,0.92],[-0.04,0.56],[0,-0.42],[0.03,0.26],[0.07,0.78],[0.11,0.02],[0.15,1.02],[0.19,0.46],[0.23,-0.28],[0.27,0.7],[0.31,0.16],[0.35,1.14],[0.39,-0.1],[0.43,0.54],[0.47,0.9],[0.52,0.3],[0.56,1.24],[0.6,-0.18],[0.65,0.7],[0.7,1.36],[0.75,0.36],[0.8,1.02],[0.85,-0.02],[0.9,1.46],[0.95,0.6],[1,0.14],[1.05,1.5],[1.1,0.84],[1.15,1.26],[1.2,0.4],[1.25,1.56],[1.32,1.02],[1.4,1.66],[1.5,1.74],[1.6,1.3],[1.7,1.8],[1.8,1.5],[1.9,1.82],[2,1.78],[2.04,1.84],[2.12,1.86],[2.18,1.6],
[-1.26,-0.24],[-1.2,-0.44],[-1.15,-0.1],[-1.1,-0.62],[-1.05,-0.3],[-1,0.1],[-0.97,-0.5],[-0.93,-0.3],[-0.89,0.2],[-0.85,-0.1],[-0.81,-0.62],[-0.77,0.24],[-0.73,-0.44],[-0.69,0.08],[-0.65,-0.22],[-0.61,-0.72],[-0.57,0.3],[-0.53,-0.14],[-0.49,-0.42],[-0.45,0.4],[-0.41,-0.02],[-0.37,-0.58],[-0.33,0.14],[-0.29,0.52],[-0.25,-0.18],[-0.21,-0.5],[-0.17,0.6],[-0.13,0.3],[-0.09,-0.1],[-0.05,0.76],[-0.01,0.2],[0.02,-0.22],[0.05,0.5],[0.09,0.92],[0.13,0.16],[0.17,0.66],[0.21,-0.2],[0.26,0.34],[0.3,0.98],[0.34,0.54],[0.38,0.2],[0.42,0.06],[0.48,1.06],[0.53,0.62],[0.58,0.16],[0.63,1],[0.68,0.44],[0.72,-0.04],[0.78,0.8],[0.83,1.2],[0.88,0.42],[0.94,0.96],[1,1.3],[1.06,0.64],[1.13,1.5],[1.2,1],[1.3,1.3],[1.38,1.5],[1.46,1.2],[1.56,1.56],[1.66,1.66],[1.76,1.4],[1.86,1.7],[1.94,1.6],
[-1.24,-0.36],[-1.16,-0.22],[-1.09,-0.14],[-1.01,-0.28],[-0.94,-0.1],[-0.9,-0.56],[-0.83,-0.2],[-0.78,-0.02],[-0.74,-0.64],[-0.7,0.22],[-0.66,-0.34],[-0.62,-0.5],[-0.58,0.06],[-0.54,0.18],[-0.5,-0.26],[-0.46,0.22],[-0.42,-0.46],[-0.38,0.46],[-0.34,-0.28],[-0.3,0.14],[-0.26,-0.04],[-0.22,0.28],[-0.18,-0.22],[-0.14,0.46],[-0.1,0.1],[-0.06,-0.44],[-0.03,0.4],[0.01,-0.1],[0.04,0.62],[0.08,-0.14],[0.12,0.34],[0.16,0.84],[0.2,-0.08],[0.25,0.5],[0.3,0.2],[0.36,0.76],[0.44,0.28],[0.5,0.08],[0.58,0.5],[0.66,0.24],[0.76,0.7],[0.86,0.8],[0.98,0.46],[1.12,0.9],[1.28,1.4]];
const botNonprofit = [[2.96,1.51],[0.12,-1.07],[-1.8,-1.56],[-1.62,-1.17],[-1.25,-0.93],[-1.1,-0.85],[-0.96,-0.91],[-1.23,-0.62],[-1.35,0.15],[-1.26,0.09],[-1.33,-0.11],[-1.09,0.34],[2.09,2.25],[2.18,2.16],[2.34,2.14],[2.05,1.43],[0.74,1.76],[1.29,1.88],[1.57,1.9],[-0.22,1.06],[-0.13,1.07],
[-1.3,-0.12],[-1.25,-0.32],[-1.2,0],[-1.16,-0.62],[-1.1,-0.44],[-1.06,0.14],[-1.02,-0.16],[-0.98,-0.58],[-0.94,0.28],[-0.9,-0.02],[-0.86,-0.26],[-0.82,0.3],[-0.78,-0.54],[-0.74,0.16],[-0.7,-0.78],[-0.66,0.46],[-0.62,-0.18],[-0.58,0.22],[-0.54,-0.5],[-0.5,0.58],[-0.46,0.04],[-0.42,-0.32],[-0.38,0.72],[-0.34,0.14],[-0.3,0.42],[-0.26,-0.56],[-0.22,0.86],[-0.18,0.24],[-0.14,0.62],[-0.1,-0.14],[-0.06,0.34],[-0.02,1],[0.02,0.06],[0.06,-0.44],[0.1,0.58],[0.14,0.86],[0.18,-0.1],[0.24,1.12],[0.3,0.4],[0.34,-0.22],[0.4,1.26],[0.46,0.2],[0.5,0.78],[0.58,1.34],[0.62,0.1],[0.68,-0.14],[0.74,1.44],[0.82,0.6],[0.88,0.1],[0.96,1.58],[1.04,0.5],[1.12,1.7],[1.18,0.32],[1.26,0.9],[1.34,1.78],[1.44,0.7],[1.48,1.86],[1.56,1.06],[1.64,0.84],[1.72,1.86],[1.82,1.04],[1.95,1.36],[2.15,1.78],
[-1.28,-0.5],[-1.22,-0.26],[-1.14,-0.38],[-1.08,-0.16],[-1.03,-0.5],[-0.99,0.02],[-0.95,-0.36],[-0.91,0.1],[-0.87,-0.6],[-0.83,0.02],[-0.79,-0.34],[-0.75,0.4],[-0.71,-0.1],[-0.67,-0.46],[-0.63,0.12],[-0.59,-0.28],[-0.55,0.34],[-0.51,-0.1],[-0.47,-0.36],[-0.43,0.3],[-0.39,-0.12],[-0.35,0.52],[-0.31,-0.4],[-0.27,0.24],[-0.23,-0.1],[-0.19,0.5],[-0.15,-0.42],[-0.11,0.78],[-0.07,0.08],[-0.03,-0.24],[0.04,0.72],[0.08,0.3],[0.12,-0.16],[0.16,0.58],[0.2,1.1],[0.26,0.1],[0.32,0.72],[0.38,-0.06],[0.44,0.42],[0.54,1.08],[0.6,0.3],[0.66,0.86],[0.72,0.14],[0.8,0.5],[0.86,1.3],[0.92,0.4],[1,1.1],[1.08,0.32],[1.16,1.4],[1.24,0.5],[1.32,0.78],[1.42,1.4],[1.52,0.72],[1.62,1.7],[1.68,1],[1.9,1.5],
[-1.18,-0.2],[-1.12,-0.5],[-1.04,-0.1],[-0.92,-0.4],[-0.84,-0.08],[-0.76,-0.14],[-0.68,-0.22],[-0.6,0],[-0.52,0.38],[-0.44,-0.24],[-0.36,-0.04],[-0.28,0.62],[-0.2,-0.18],[-0.12,0.46],[-0.04,0.22],[0.02,0.46],[0.1,0.22],[0.16,0.38],[0.22,0.7],[0.28,-0.1],[0.36,0.3],[0.48,0.5],[0.56,0.02],[0.64,0.56],[0.7,0.9],[0.84,0.36],[0.9,0.7],[1.1,1],[1.22,1.1],[1.38,0.9]];
const botPublic = [[-2.58,-1.2],[-2.38,-1.87],[-2.21,-1.92],[-1.7,-1.44],[-1.54,-1.47],[-1.33,-0.3],[-1.14,-0.8],[-1.02,-0.71],[-0.46,-0.82],[0.11,-0.53],[0.49,-0.42],[0.41,-0.33],[2.7,1.77],[2.37,1.73],[2.24,1.53],[2.3,1.94],[2.22,2.11],[2.2,1.02],[2,0.93],[2.02,1.05],[1.65,0.67],[1.2,0.12],[1.14,0.19],[0.97,0.06],[0.35,1.45],
[-1.2,-0.3],[-1.1,-0.54],[-0.9,-0.5],[-0.8,-0.1],[-0.7,-0.38],[-0.6,-0.62],[-0.52,-0.2],[-0.4,-0.6],[-0.3,-0.22],[-0.22,-0.44],[-0.16,0.08],[-0.1,0.3],[-0.05,-0.3],[0.01,0.7],[0.05,0.16],[0.09,-0.3],[0.13,0.44],[0.17,1],[0.21,0.22],[0.25,-0.16],[0.29,0.6],[0.33,0.98],[0.37,0.06],[0.41,0.76],[0.45,1.16],[0.49,0.34],[0.53,-0.04],[0.57,0.92],[0.61,0.5],[0.64,1.18],[0.67,0.18],[0.71,0.84],[0.73,1.3],[0.76,0.5],[0.79,0.06],[0.82,1.16],[0.84,0.72],[0.87,0.3],[0.9,1.3],[0.92,0.94],[0.95,0.14],[0.98,1.1],[1,0.68],[1.02,1.44],[1.04,0.3],[1.07,0.96],[1.09,1.62],[1.11,0.54],[1.14,1.2],[1.17,0.78],[1.19,1.5],[1.21,0.36],[1.23,1.06],[1.26,0.6],[1.28,1.32],[1.3,0.86],[1.33,1.66],[1.35,0.46],[1.37,1.14],[1.39,1.46],[1.42,0.76],[1.45,1.24],[1.47,1.6],[1.49,0.58],[1.52,1.02],[1.54,1.38],[1.57,1.76],[1.59,0.72],[1.62,1.14],[1.65,1.5],[1.67,0.92],[1.7,1.66],[1.73,0.76],[1.75,1.28],[1.78,1.84],[1.8,1.06],[1.83,1.6],[1.86,1.26],[1.88,1.7],[1.92,1.2],[1.95,1.86],[1.98,1.5],[2.02,1.66],[2.05,1.28],[2.1,1.76],[2.15,1.5],[2.2,1.64],[2.06,1.88],
[-0.08,0.54],[-0.02,0.14],[0.03,0.52],[0.07,-0.1],[0.11,0.8],[0.15,0.28],[0.19,0.7],[0.23,0.04],[0.27,0.46],[0.31,1.08],[0.35,-0.04],[0.39,0.24],[0.43,0.9],[0.47,0.5],[0.51,1.28],[0.55,0.14],[0.59,0.7],[0.63,0.3],[0.66,0.98],[0.69,0.58],[0.72,0],[0.75,1.16],[0.78,0.3],[0.81,0.86],[0.83,0.5],[0.86,1.3],[0.89,0.16],[0.91,0.66],[0.94,0.3],[0.97,1.4],[0.99,0.86],[1.01,0.48],[1.03,1.18],[1.06,0.2],[1.08,0.74],[1.1,1.36],[1.13,0.42],[1.16,1],[1.18,0.64],[1.2,1.32],[1.22,0.84],[1.24,0.48],[1.27,1.16],[1.29,0.72],[1.31,1.48],[1.34,0.96],[1.36,0.62],[1.38,1.3],[1.41,1.02],[1.43,0.62],[1.46,1.44],[1.48,0.86],[1.5,1.2],[1.53,1.62],[1.55,0.76],[1.58,1.26],[1.6,0.92],[1.63,1.54],[1.66,1.18],[1.68,0.86],[1.71,1.44],[1.74,1.04],[1.76,1.7],[1.79,1.24],[1.82,1.44],[1.84,0.98],[1.87,1.56],[1.9,1.3],[1.93,1.72],[1.96,1.4],[2,1.6],[2.03,1.36],[2.07,1.74],[2.12,1.4],[2.18,1.7],
[0.06,0.4],[0.12,0.1],[0.18,0.58],[0.24,0.84],[0.28,0.2],[0.34,0.48],[0.38,0.92],[0.42,0.14],[0.46,0.6],[0.52,0.84],[0.56,0.28],[0.6,1.06],[0.65,0.14],[0.68,0.74],[0.74,0.24],[0.77,0.96],[0.8,0.36],[0.85,0.6],[0.88,1.06],[0.93,0.52],[0.96,0.78],[1,0.3],[1.03,1],[1.05,0.52],[1.1,0.7],[1.12,1.12],[1.15,0.36],[1.18,0.94],[1.21,0.62],[1.24,1.22],[1.27,0.5],[1.3,1.06],[1.33,0.7],[1.36,1.24],[1.4,0.84],[1.44,0.56],[1.47,1.06],[1.5,0.7],[1.53,1.46],[1.56,0.9],[1.6,1.1],[1.64,1.34],[1.66,0.8],[1.7,1.14],[1.73,1.5],[1.77,0.94],[1.8,1.3],[1.84,1.14],[1.87,1.4],[1.91,1.54],[1.94,1.28],[1.98,1.72],[2.02,1.44],[2.06,1.6],[2.14,1.62]];
const botSmooth = [[-2.58,-1.31],[-2,-0.94],[-1.5,-0.6],[-1,-0.24],[-0.5,0.02],[0,0.39],[0.5,0.65],[1,1.02],[1.5,1.29],[2,1.59],[2.51,1.92],[2.95,2.2]];

const panels = [
  {title: 'Low Income', xName: 'VA Low Income', xMin: -2.743, xMax: 3.287, xTicks: [-2, -1, 0, 1, 2, 3], xMinor: [-2.5, -1.5, -0.5, 0.5, 1.5, 2.5],
    left: 58.7, top: 80.5, groups: [lowProfit, lowNonprofit, lowPublic], smooth: lowSmooth},
  {title: 'Top Quartile', xName: 'VA Top 25%', xMin: -3.578, xMax: 2.73, xTicks: [-2, 0, 2], xMinor: [-3, -1, 1],
    left: 610.7, top: 80.5, groups: [topProfit, topNonprofit, topPublic], smooth: topSmooth},
  {title: 'Subsidized Students', xName: 'VA Subsidized', xMin: -2.019, xMax: 2.631, xTicks: [-2, -1, 0, 1, 2], xMinor: [-1.5, -0.5, 0.5, 1.5, 2.5],
    left: 58.7, top: 489.7, groups: [subProfit, subNonprofit, subPublic], smooth: subSmooth},
  {title: 'Bottom Quartile', xName: 'VA Bottom 25%', xMin: -2.856, xMax: 3.24, xTicks: [-2, -1, 0, 1, 2, 3], xMinor: [-2.5, -1.5, -0.5, 0.5, 1.5, 2.5],
    left: 610.7, top: 489.7, groups: [botProfit, botNonprofit, botPublic], smooth: botSmooth}
];

const FONT = '"Liberation Sans", Arial, sans-serif';
const PANEL_W = 483.6, PANEL_H = 313;
const signed = v => String(v).replace('-', '\u2212');

// ggplot draws in row order, so the groups are interleaved instead of stacked by colour
function mixPoints(groups) {
  const out = [];
  const n = Math.max(...groups.map(g => g.length));
  for (let i = 0; i < n; i++) {
    groups.forEach((g, t) => { if (g[i]) out.push([g[i][0], g[i][1], t]); });
  }
  return out;
}

const option = {
  animation: false,
  backgroundColor: '#fff',
  title: [{text: 'Exam based valued added heterogeneity', left: 10, top: 9, padding: 0, textStyle: {fontFamily: FONT, fontSize: 22.4, fontWeight: 'normal', color: '#000'}}],
  graphic: [{type: 'text', left: 335, top: 884, style: {text: 'Institution Type', fontFamily: FONT, fontSize: 18.67, fill: '#000'}}],
  legend: {
    left: 477, top: 881, icon: 'circle', itemWidth: 8, itemHeight: 8, itemGap: 20.5,
    data: institutionTypes,
    textStyle: {fontFamily: FONT, fontSize: 15.7, color: '#000', padding: [0, 0, 0, 16]}
  },
  grid: [], xAxis: [], yAxis: [], series: []
};

panels.forEach((p, i) => {
  option.title.push({text: p.title, left: p.left, top: p.top - 32, padding: 0, textStyle: {fontFamily: FONT, fontSize: 22.4, fontWeight: 'normal', color: '#000'}});
  option.grid.push({left: p.left, top: p.top, width: PANEL_W, height: PANEL_H, show: false});
  const border = {show: true, onZero: false, lineStyle: {color: '#333', width: 1.1}};
  const tick = {show: true, length: 4, lineStyle: {color: '#333', width: 1.1}};
  const label = {color: '#4D4D4D', fontFamily: FONT, fontSize: 14.9, formatter: signed};
  const major = {show: true, lineStyle: {color: '#EBEBEB', width: 1.5}};
  const minor = {show: true, lineStyle: {color: '#EBEBEB', width: 0.8}};
  // main axes: labels, ticks, major grid; second pair: minor grid and the far panel border
  option.xAxis.push(
    {type: 'value', gridIndex: i, position: 'bottom', min: p.xMin, max: p.xMax, name: p.xName, nameLocation: 'middle', nameGap: 28,
      nameTextStyle: {fontFamily: FONT, fontSize: 18.67, color: '#000'}, axisLine: border, splitLine: major,
      axisTick: {...tick, customValues: p.xTicks}, axisLabel: {...label, margin: 9, customValues: p.xTicks}},
    {type: 'value', gridIndex: i, position: 'top', min: p.xMin, max: p.xMax, axisLine: border, splitLine: minor,
      axisTick: {show: false, customValues: p.xMinor}, axisLabel: {show: false}}
  );
  option.yAxis.push(
    {type: 'value', gridIndex: i, position: 'left', min: -3.29, max: 2.96, name: 'VA Full', nameLocation: 'middle', nameGap: 30,
      nameTextStyle: {fontFamily: FONT, fontSize: 18.67, color: '#000'}, axisLine: border, splitLine: major,
      axisTick: {...tick, customValues: yTicks}, axisLabel: {...label, margin: 8, customValues: yTicks}},
    {type: 'value', gridIndex: i, position: 'right', min: -3.29, max: 2.96, axisLine: border, splitLine: minor,
      axisTick: {show: false, customValues: yMinorTicks}, axisLabel: {show: false}}
  );
  const ax = {xAxisIndex: i * 2, yAxisIndex: i * 2};
  option.series.push(
    {type: 'scatter', ...ax, symbolSize: 8, large: false, data: mixPoints(p.groups), silent: true,
      itemStyle: {opacity: 1, color: d => typeColors[d.value[2]]}},
    {type: 'line', ...ax, data: identityLine, showSymbol: false, silent: true, clip: true, lineStyle: {color: '#000', width: 1.4}},
    {type: 'line', ...ax, data: p.smooth, showSymbol: false, silent: true, lineStyle: {color: '#FFD700', width: 3.4}}
  );
});

// empty series so the legend gets its three entries
institutionTypes.forEach((name, t) => {
  option.series.push({type: 'scatter', name, xAxisIndex: 0, yAxisIndex: 0, data: [], itemStyle: {opacity: 1, color: typeColors[t]}});
});

const chart = echarts.init(document.getElementById('chart'), null, {renderer: 'canvas'});
chart.setOption(option);
</script>
</body>
</html>
